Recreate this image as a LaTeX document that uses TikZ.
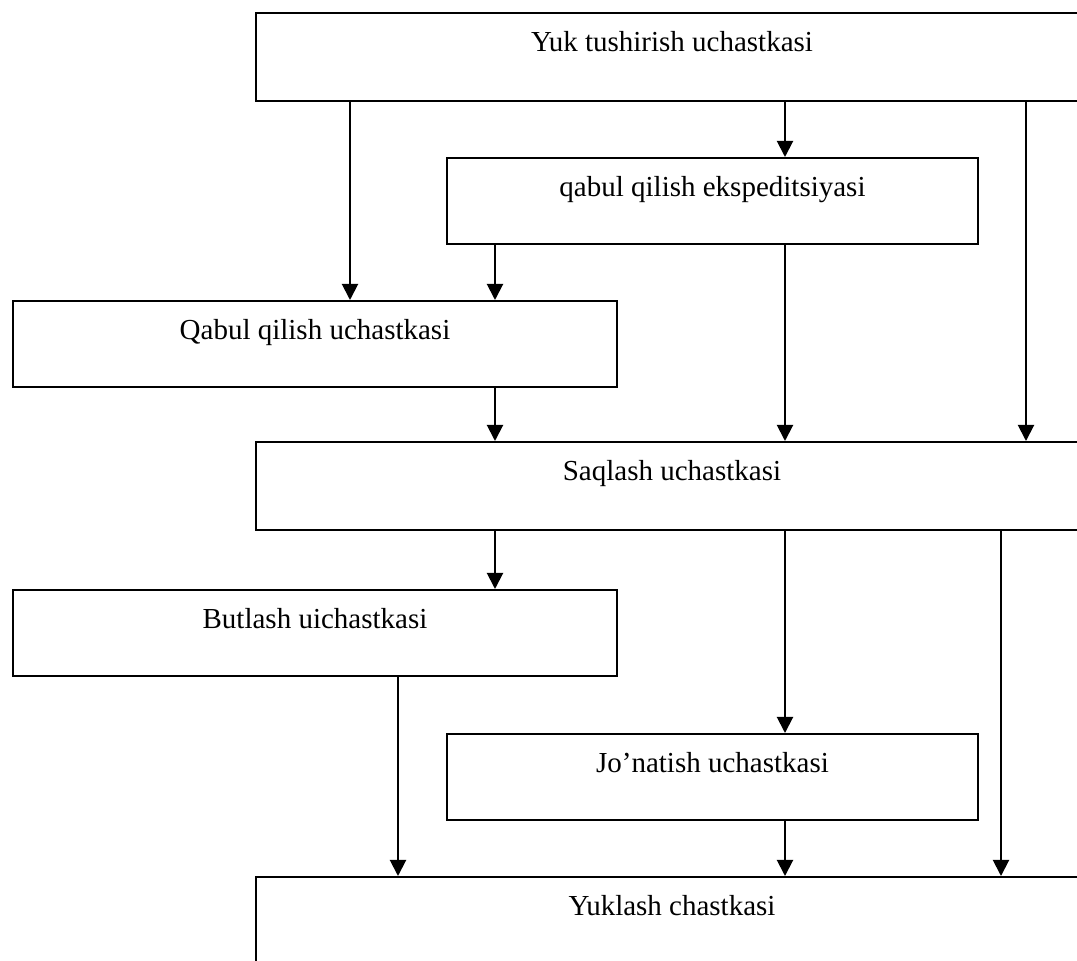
\documentclass[tikz,border=0pt]{standalone}
\usepackage{fontspec}
\setmainfont{Liberation Serif}
\usetikzlibrary{arrows.meta}
\tikzset{
  box/.style={draw,line width=1pt,inner sep=0pt,anchor=north west,
    font=\fontsize{14.5}{17}\selectfont,text height=19.25pt},
  wide/.style={box,minimum width=416pt,text depth=25pt},
  mid/.style={box,minimum width=265.5pt,text depth=24pt},
  left/.style={box,minimum width=302pt,text depth=24pt},
  arr/.style={line width=1pt,-{Triangle[length=8pt,width=8pt]}}
}
\begin{document}
\begin{tikzpicture}[x=0.5pt,y=-0.5pt]
\useasboundingbox (0,0) rectangle (1077,961);
\node[wide] (yuk) at (255,12) {Yuk tushirish uchastkasi};
\node[mid] (qek) at (446,157) {qabul qilish ekspeditsiyasi};
\node[left] (qab) at (12,300) {Qabul qilish uchastkasi};
\node[wide] (saq) at (255,441) {Saqlash uchastkasi};
\node[left] (but) at (12,589) {Butlash uichastkasi};
\node[mid] (jon) at (446,733) {Jo’natish uchastkasi};
\node[wide] (yukl) at (255,876) {Yuklash chastkasi};
% columns of the arrows
\coordinate (c1) at (350,0);
\coordinate (c2) at (495,0);
\coordinate (c3) at (785,0);
\coordinate (c4) at (1026,0);
\coordinate (c5) at (398,0);
\coordinate (c6) at (1001,0);
\draw[arr] (yuk.south -| c1) -- (qab.north -| c1);
\draw[arr] (yuk.south -| c3) -- (qek.north -| c3);
\draw[arr] (yuk.south -| c4) -- (saq.north -| c4);
\draw[arr] (qek.south -| c2) -- (qab.north -| c2);
\draw[arr] (qek.south -| c3) -- (saq.north -| c3);
\draw[arr] (qab.south -| c2) -- (saq.north -| c2);
\draw[arr] (saq.south -| c2) -- (but.north -| c2);
\draw[arr] (saq.south -| c3) -- (jon.north -| c3);
\draw[arr] (saq.south -| c6) -- (yukl.north -| c6);
\draw[arr] (but.south -| c5) -- (yukl.north -| c5);
\draw[arr] (jon.south -| c3) -- (yukl.north -| c3);
\end{tikzpicture}
\end{document}
